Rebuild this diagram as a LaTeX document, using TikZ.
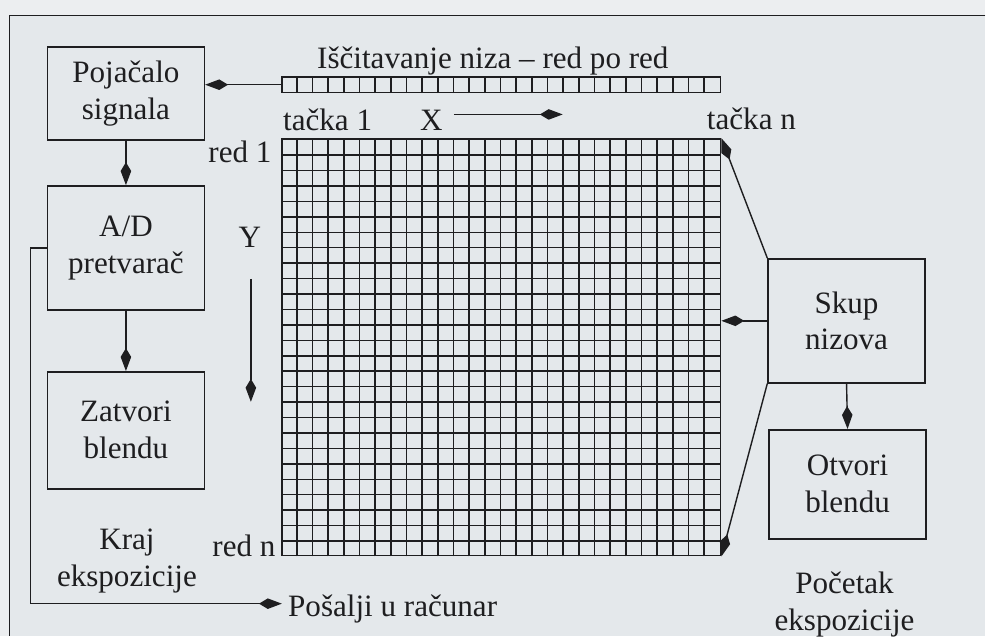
\documentclass[tikz,border=0pt]{standalone}
\usepackage{fontspec}
\setmainfont{Liberation Serif}
\usetikzlibrary{arrows.meta}
\definecolor{papir}{RGB}{228,232,235}
\definecolor{papirgore}{RGB}{236,238,240}
\definecolor{tinta}{RGB}{30,30,32}

\begin{document}
\begin{tikzpicture}[scale=1.0, >={Kite[length=13pt, width=6pt, inset=5pt]},
  every node/.style={align=center, inner sep=0pt, text=tinta, font=\fontsize{17.7}{21}\selectfont},
  blok/.style={draw=tinta, line width=0.9pt, minimum width=3.14cm},
  veza/.style={->, draw=tinta, line width=0.8pt},
  celija/.style={draw=tinta, line width=0.85pt}]
  % Paper and frame
  \fill[papirgore] (0, 0) rectangle (19.72, 12.72);
  \fill[papir] (0.19, 0) rectangle (19.72, 12.41);
  \draw[tinta, line width=0.6pt] (19.72, 12.41) -- (0.19, 12.41) -- (0.19, 0);

  % Blocks on the left
  \node[blok, minimum height=1.86cm] (amp) at (2.52, 10.85) {Pojačalo\\signala};
  \node[blok, minimum height=2.48cm] (adc) at (2.52, 7.76) {A/D\\pretvarač};
  \node[blok, minimum height=2.34cm] (close) at (2.52, 4.11) {Zatvori\\blendu};

  % Blocks on the right
  \node[blok, minimum height=2.48cm] (arr) at (16.94, 6.30) {Skup\\nizova};
  \node[blok, minimum height=2.18cm] (open) at (16.96, 3.03) {Otvori\\blendu};

  % Pixel array, 28 x 27
  \node[celija, minimum width=8.78cm, minimum height=8.34cm] (grid) at (10.03, 5.77) {};
  \foreach \i in {1,...,27}
    \draw[celija] ([xshift=\i*0.31357cm]grid.south west) -- ([xshift=\i*0.31357cm]grid.north west);
  \foreach \j in {1,...,26}
    \draw[celija] ([yshift=\j*0.30889cm]grid.south west) -- ([yshift=\j*0.30889cm]grid.south east);

  % Readout register
  \node[celija, minimum width=8.78cm, minimum height=0.31cm] (reg) at (10.03, 11.025) {};
  \foreach \i in {1,...,27}
    \draw[celija] ([xshift=\i*0.31357cm]reg.south west) -- ([xshift=\i*0.31357cm]reg.north west);
  \node[anchor=base west] (title) at (6.34, 11.34) {Iščitavanje niza – red po red};

  % Labels round the array
  \node[anchor=base west] (t1) at (5.66, 10.10) {tačka 1};
  \node[anchor=base west] (tn) at (14.14, 10.12) {tačka n};
  \node[anchor=base east] (r1) at (5.44, 9.46) {red 1};
  \node[anchor=base east] (rn) at (5.52, 1.58) {red n};
  \node[anchor=base west] (xlab) at (8.40, 10.10) {X};
  \node[anchor=base] (ylab) at (5.0, 7.76) {Y};
  \coordinate (xpoc) at (9.08, 10.43);
  \coordinate (xkraj) at (11.26, 10.43);
  \coordinate (ypoc) at (5.02, 7.14);
  \coordinate (ykraj) at (5.02, 4.68);
  \draw[veza] (xpoc) -- (xkraj);
  \draw[veza] (ypoc) -- (ykraj);

  % Exposure labels
  \node (kraj) at (2.54, 1.49) {Kraj\\ekspozicije};
  \node (pocetak) at (16.9, 0.63) {Početak\\ekspozicije};
  \node[anchor=base west] (send) at (5.76, 0.38) {Pošalji u računar};
  \coordinate (slanje) at (5.64, 0.64);

  % Connectors
  \draw[veza] (reg.west) -- (reg.west -| amp.east);
  \draw[veza] (amp.south) -- (adc.north);
  \draw[veza] (adc.south) -- (close.north);
  \draw[veza] (adc.west) -- ++(-0.32, 0) |- (slanje);
  \draw[veza] (arr.north west) -- (grid.north east);
  \draw[veza] (arr.south west) -- (grid.south east);
  \draw[veza] (arr.west) -- (arr.west -| grid.east);
  \draw[veza] (arr.south) -- (open.north);
\end{tikzpicture}
\end{document}
